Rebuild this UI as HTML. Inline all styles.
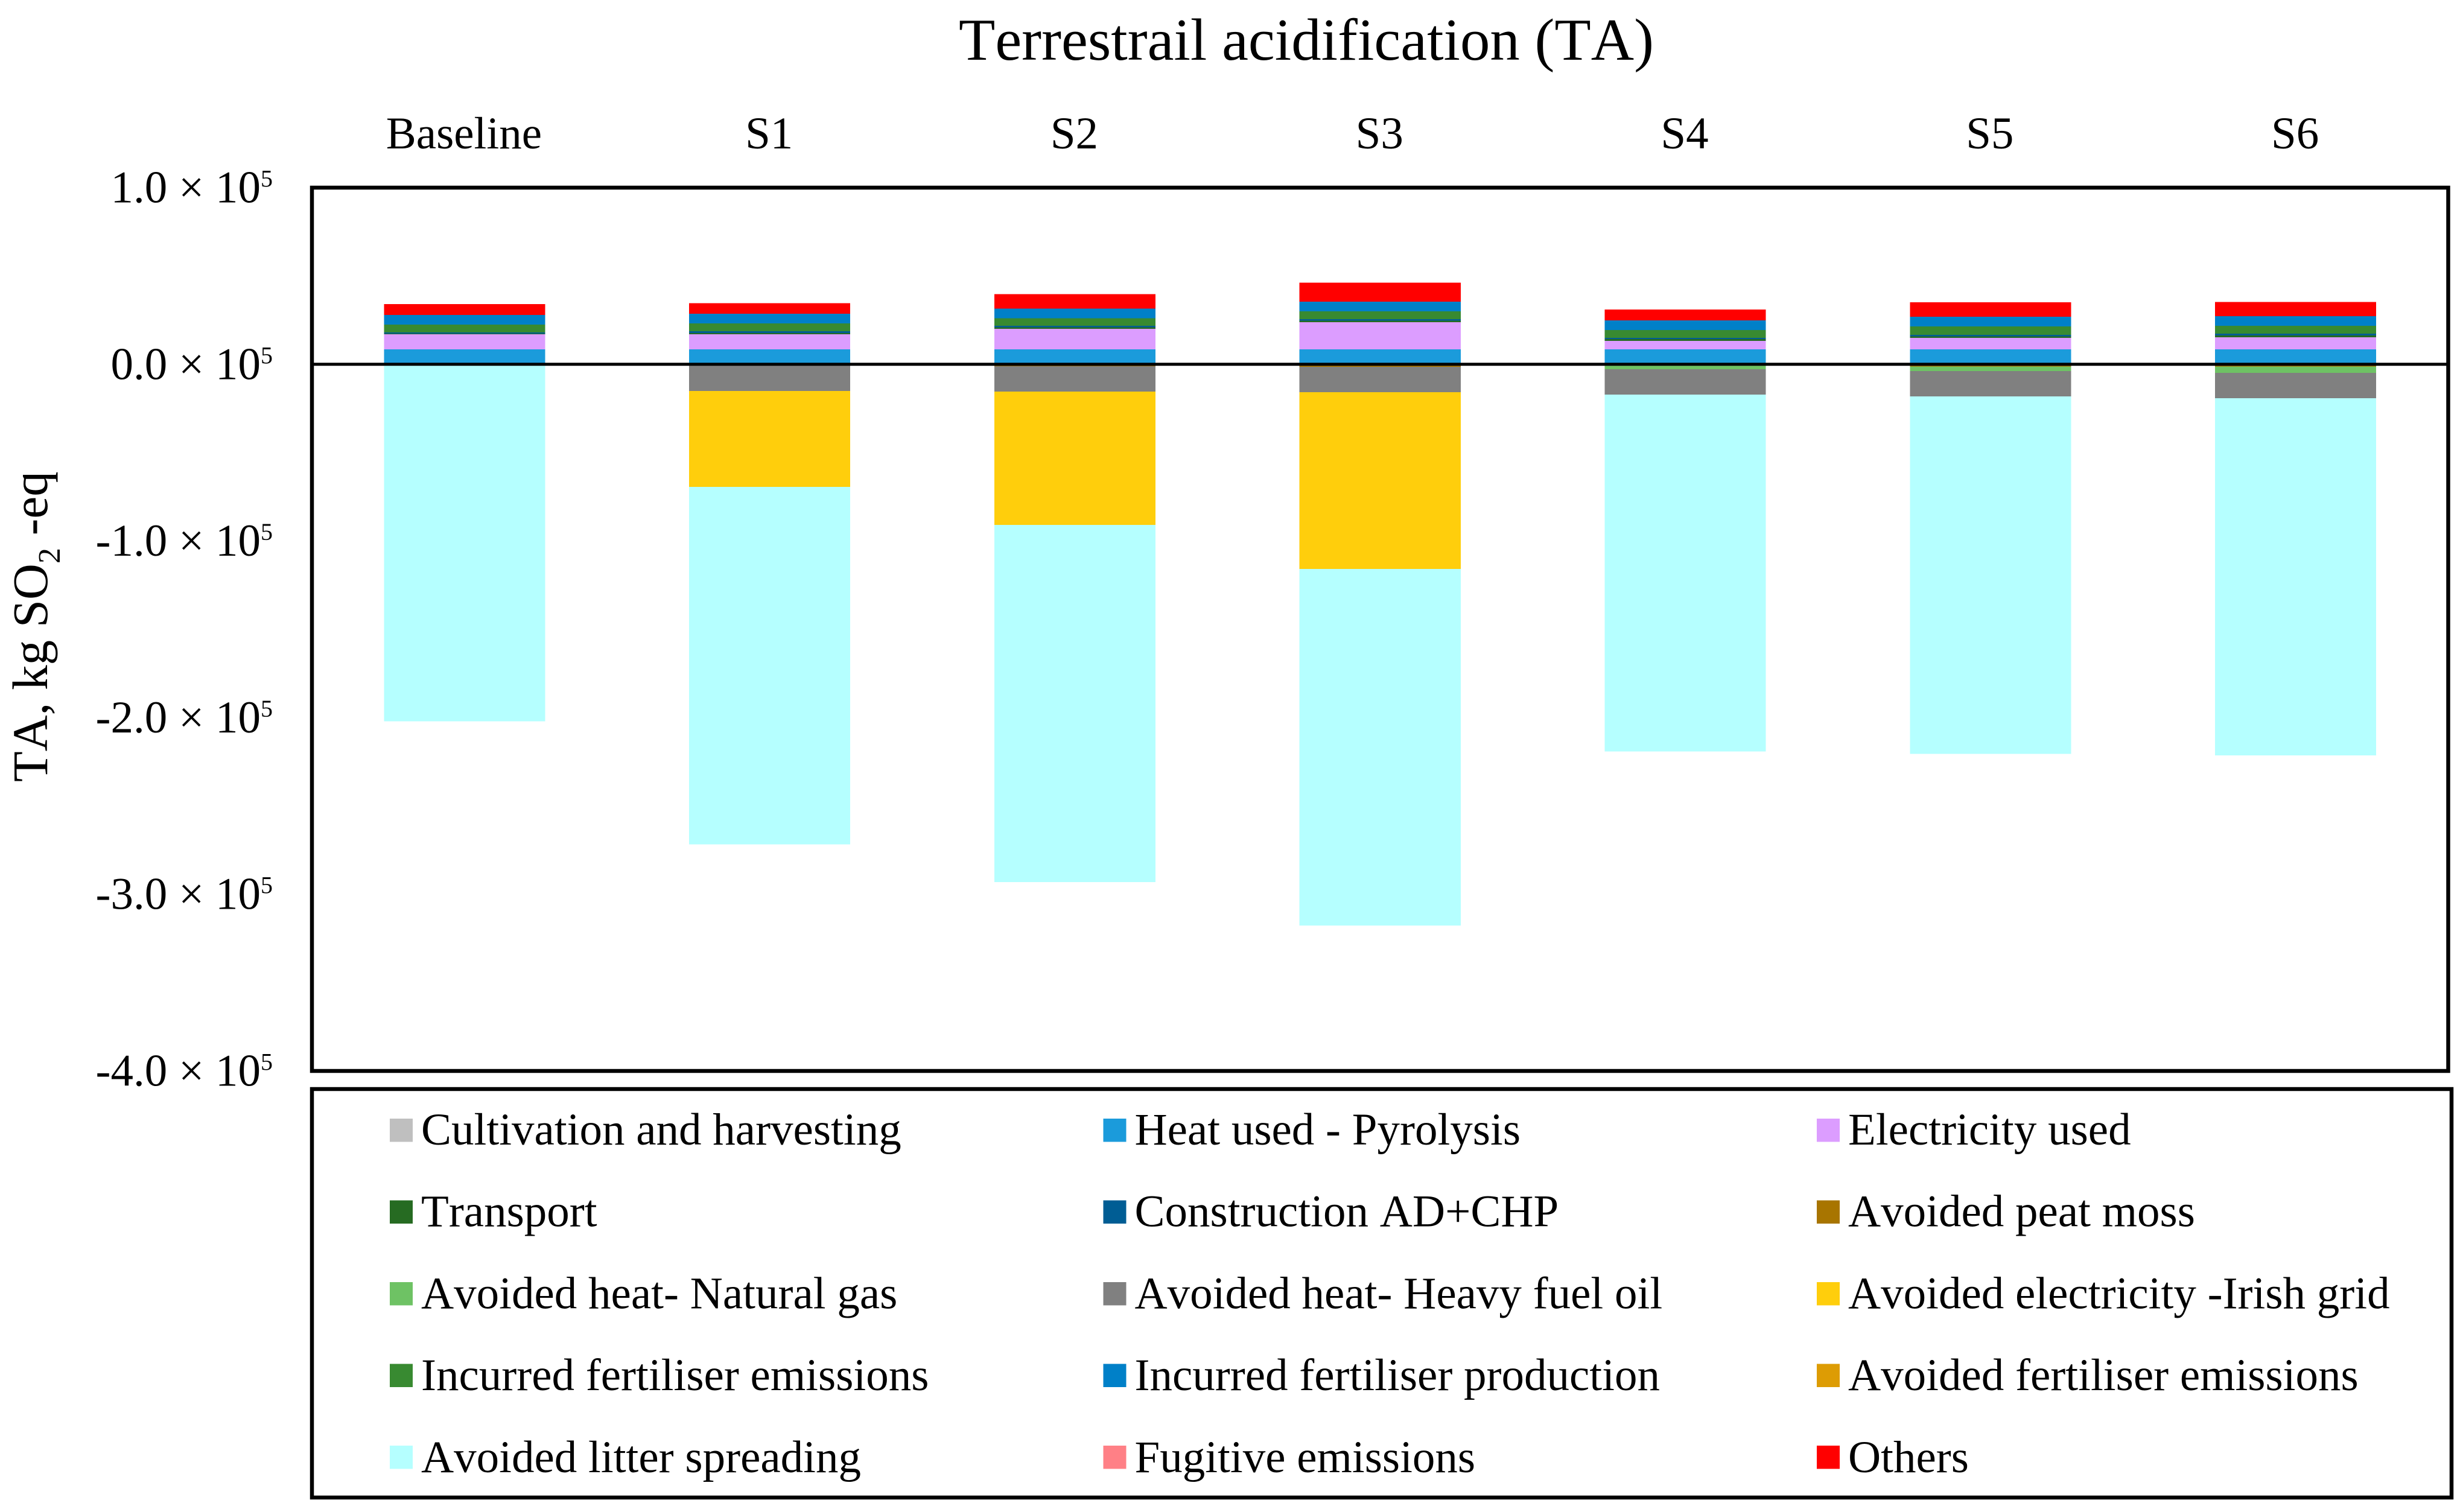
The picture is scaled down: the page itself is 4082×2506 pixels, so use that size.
<!DOCTYPE html>
<html lang="en">
<head>
<meta charset="utf-8">
<title>Terrestrail acidification (TA)</title>
<style>
html,body{margin:0;padding:0;background:#fff;}
svg{display:block;}
text{font-family:"Liberation Serif","Times New Roman",serif;fill:#000;font-kerning:none;}
</style>
</head>
<body>
<svg id="chart" xmlns="http://www.w3.org/2000/svg" width="4082" height="2506" viewBox="0 0 4082 2506">
<rect x="0" y="0" width="4082" height="2506" fill="#ffffff"/>
<text x="2165" y="99" font-size="98.8" text-anchor="middle">Terrestrail acidification (TA)</text>
<text transform="translate(78,1296) rotate(-90)" font-size="83">TA, kg SO<tspan dy="21" font-size="52">2</tspan><tspan dy="-21"> -eq</tspan></text>
<g id="bars"></g>
<g id="axes"></g>
<g id="legend"></g>
</svg>
<script>
const categories = ['Baseline', 'S1', 'S2', 'S3', 'S4', 'S5', 'S6'];
const tickValues = [100000, 0, -100000, -200000, -300000, -400000];
const tickLabels = ['1.0 × 10', '0.0 × 10', '-1.0 × 10', '-2.0 × 10', '-3.0 × 10', '-4.0 × 10'];
const tickExponent = '5';

const cultivation = [0, 0, 0, 0, 0, 0, 0];
const heatUsed = [8400, 8400, 8400, 8400, 8400, 8400, 8400];
const electricityUsed = [8535, 8535, 11600, 15360, 4780, 6490, 6830];
const transport = [460, 680, 1020, 910, 1020, 910, 1020];
const construction = [570, 1020, 800, 800, 680, 800, 1020];
const avoidedPeat = [0, -800, -1140, -1480, -500, -1250, -1250];
const avoidedGas = [0, 0, 0, 0, -2350, -2620, -3640];
const avoidedOil = [0, -14340, -14340, -14340, -14340, -14340, -14340];
const avoidedElectricity = [0, -54200, -75370, -100030, 0, 0, 0];
const incurredEmissions = [4550, 4550, 4320, 4550, 4440, 4780, 4550];
const incurredProduction = [5460, 5460, 5460, 5460, 5460, 5460, 5460];
const avoidedFertiliser = [0, 0, 0, 0, 0, 0, 0];
const avoidedLitter = [-202100, -202500, -202200, -201800, -202000, -202300, -202100];
const fugitive = [0, 0, 0, 0, 0, 0, 0];
const others = [6030, 6030, 8190, 10810, 6150, 8190, 8080];

const seriesNames = ['Cultivation and harvesting', 'Heat used - Pyrolysis', 'Electricity used', 'Transport', 'Construction AD+CHP', 'Avoided peat moss', 'Avoided heat- Natural gas', 'Avoided heat- Heavy fuel oil', 'Avoided electricity -Irish grid', 'Incurred fertiliser emissions', 'Incurred fertiliser production', 'Avoided fertiliser emissions', 'Avoided litter spreading', 'Fugitive emissions', 'Others'];
const seriesValues = [cultivation, heatUsed, electricityUsed, transport, construction, avoidedPeat, avoidedGas, avoidedOil, avoidedElectricity, incurredEmissions, incurredProduction, avoidedFertiliser, avoidedLitter, fugitive, others];
const seriesColors = ['#bfbfbf', '#1b9bdb', '#dc9dff', '#266b22', '#005d94', '#a87500', '#6ec264', '#808080', '#ffce0c', '#388a31', '#0080c8', '#dd9c04', '#b5ffff', '#ff8086', '#ff0000'];

const SVGNS = 'http://www.w3.org/2000/svg';
const plot = {left: 517, right: 4057.5, top: 311, bottom: 1775, zero: 603.7, yMax: 100000, yMin: -400000};
const barFraction = 0.528;

function yScale(v) {
  return plot.top + (plot.yMax - v) / (plot.yMax - plot.yMin) * (plot.bottom - plot.top);
}
function xBand(i) {
  return (plot.right - plot.left) / categories.length;
}
function xCenter(i) {
  return plot.left + (i + 0.5) * xBand(i);
}
function slug(s) {
  return s.toLowerCase().replace(/[^a-z0-9]+/g, '-').replace(/^-|-$/g, '');
}

const barsG = document.getElementById('bars');
categories.forEach(function (cat, ci) {
  let posSum = 0;
  let negSum = 0;
  const w = xBand(ci) * barFraction;
  seriesValues.forEach(function (vals, si) {
    const v = vals[ci];
    if (!v) return;
    let y0, y1;
    if (v > 0) {
      y0 = yScale(posSum + v);
      y1 = yScale(posSum);
      posSum += v;
    } else {
      y0 = yScale(negSum);
      y1 = yScale(negSum + v);
      negSum += v;
    }
    const r = document.createElementNS(SVGNS, 'rect');
    r.setAttribute('x', xCenter(ci) - w / 2);
    r.setAttribute('y', y0);
    r.setAttribute('width', w);
    r.setAttribute('height', y1 - y0);
    r.setAttribute('fill', seriesColors[si]);
    r.setAttribute('shape-rendering', 'crispEdges');
    
    
    barsG.appendChild(r);
  });
});

const axesG = document.getElementById('axes');

const frame = document.createElementNS(SVGNS, 'rect');
frame.setAttribute('x', plot.left);
frame.setAttribute('y', plot.top);
frame.setAttribute('width', plot.right - plot.left);
frame.setAttribute('height', plot.bottom - plot.top);
frame.setAttribute('fill', 'none');
frame.setAttribute('stroke', '#000');
frame.setAttribute('stroke-width', '6.5');


axesG.appendChild(frame);

const zeroLine = document.createElementNS(SVGNS, 'line');
zeroLine.setAttribute('x1', plot.left);
zeroLine.setAttribute('x2', plot.right);
zeroLine.setAttribute('y1', yScale(0));
zeroLine.setAttribute('y2', yScale(0));
zeroLine.setAttribute('stroke', '#000');
zeroLine.setAttribute('stroke-width', '5');


axesG.appendChild(zeroLine);

tickValues.forEach(function (v, i) {
  const t = document.createElementNS(SVGNS, 'text');
  t.setAttribute('x', 452);
  t.setAttribute('y', yScale(v) + 24.5);
  t.setAttribute('font-size', '75');
  t.setAttribute('text-anchor', 'end');
  
  
  t.appendChild(document.createTextNode(tickLabels[i]));
  const sup = document.createElementNS(SVGNS, 'tspan');
  sup.setAttribute('dy', '-26');
  sup.setAttribute('font-size', '40');
  sup.textContent = tickExponent;
  t.appendChild(sup);
  axesG.appendChild(t);
});

categories.forEach(function (cat, ci) {
  const t = document.createElementNS(SVGNS, 'text');
  t.setAttribute('x', xCenter(ci) - 1);
  t.setAttribute('y', 246);
  t.setAttribute('font-size', '75');
  t.setAttribute('text-anchor', 'middle');
  
  
  t.textContent = cat;
  axesG.appendChild(t);
});

const legendG = document.getElementById('legend');

const legendBox = document.createElementNS(SVGNS, 'rect');
legendBox.setAttribute('x', 517);
legendBox.setAttribute('y', 1805);
legendBox.setAttribute('width', 3546);
legendBox.setAttribute('height', 677);
legendBox.setAttribute('fill', 'none');
legendBox.setAttribute('stroke', '#000');
legendBox.setAttribute('stroke-width', '6.5');


legendG.appendChild(legendBox);

seriesNames.forEach(function (name, i) {
  const col = i % 3;
  const row = Math.floor(i / 3);
  const g = document.createElementNS(SVGNS, 'g');
  
  

  const sw = document.createElementNS(SVGNS, 'rect');
  sw.setAttribute('x', 646 + col * 1182.5);
  sw.setAttribute('y', 1854 + row * 135.5);
  sw.setAttribute('width', 38);
  sw.setAttribute('height', 38.5);
  sw.setAttribute('fill', seriesColors[i]);
  sw.setAttribute('shape-rendering', 'crispEdges');
  
  
  g.appendChild(sw);

  const t = document.createElementNS(SVGNS, 'text');
  t.setAttribute('x', 698 + col * 1182.5);
  t.setAttribute('y', 1897 + row * 135.7);
  t.setAttribute('font-size', '75');
  
  
  t.textContent = name;
  g.appendChild(t);

  legendG.appendChild(g);
});
</script>
</body>
</html>
